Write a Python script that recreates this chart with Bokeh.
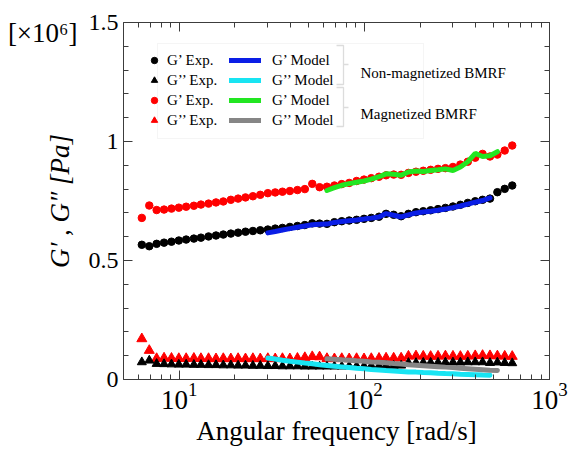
import math
from bokeh.plotting import figure
from bokeh.models import (LogAxis, LinearAxis, LogTicker, FixedTicker, CustomJSTickFormatter,
                          Legend, LegendItem, Label, BoxAnnotation, PolyAnnotation)
from bokeh.embed import file_html
from bokeh.resources import INLINE

# ---------------- data (G values in 10^6 Pa) ----------------
freq = [6.28, 6.89, 7.55, 8.28, 9.08, 9.95, 10.9, 12.0, 13.1, 14.4,
        15.8, 17.3, 19.0, 20.8, 22.8, 25.0, 27.4, 30.1, 33.0, 36.1,
        39.6, 43.5, 47.7, 52.3, 57.3, 62.8, 68.9, 75.5, 82.8, 90.8,
        99.6, 109, 120, 131, 144, 158, 173, 190, 208, 228,
        250, 274, 301, 330, 362, 397, 435, 477, 523, 573, 629]

# Non-magnetized BMRF, experiment
g1_exp_nonmag = [0.566, 0.560, 0.570, 0.575, 0.579, 0.584, 0.588, 0.592, 0.596, 0.601,
                 0.605, 0.609, 0.613, 0.617, 0.621, 0.624, 0.627, 0.630, 0.634, 0.637,
                 0.641, 0.645, 0.649, 0.656, 0.655, 0.654, 0.661, 0.665, 0.668, 0.671,
                 0.675, 0.679, 0.684, 0.696, 0.692, 0.686, 0.696, 0.703, 0.707, 0.711,
                 0.716, 0.721, 0.727, 0.734, 0.742, 0.749, 0.755, 0.760, 0.787, 0.801, 0.815]
g2_exp_nonmag = [0.073, 0.080, 0.066, 0.065, 0.064, 0.063, 0.063, 0.062, 0.062, 0.061,
                 0.061, 0.060, 0.060, 0.059, 0.059, 0.058, 0.058, 0.057, 0.057, 0.056,
                 0.056, 0.056, 0.055, 0.055, 0.055, 0.055, 0.055, 0.055, 0.056, 0.056,
                 0.056, 0.057, 0.057, 0.058, 0.058, 0.059, 0.070, 0.070, 0.071, 0.071,
                 0.071, 0.072, 0.072, 0.072, 0.073, 0.073, 0.073, 0.070, 0.072, 0.070, 0.069]

# Magnetized BMRF, experiment
g1_exp_mag = [0.679, 0.731, 0.712, 0.714, 0.718, 0.722, 0.726, 0.730, 0.735, 0.739,
              0.744, 0.748, 0.755, 0.760, 0.765, 0.770, 0.776, 0.783, 0.786, 0.789,
              0.792, 0.796, 0.800, 0.822, 0.808, 0.810, 0.815, 0.821, 0.826, 0.834,
              0.840, 0.846, 0.852, 0.858, 0.861, 0.860, 0.868, 0.873, 0.877, 0.881,
              0.885, 0.888, 0.893, 0.903, 0.915, 0.932, 0.948, 0.937, 0.945, 0.962, 0.983]
g2_exp_mag = [0.171, 0.122, 0.088, 0.090, 0.089, 0.088, 0.088, 0.089, 0.088, 0.088,
              0.087, 0.088, 0.087, 0.088, 0.087, 0.088, 0.087, 0.088, 0.087, 0.088,
              0.087, 0.089, 0.092, 0.096, 0.095, 0.088, 0.087, 0.088, 0.087, 0.088,
              0.087, 0.088, 0.089, 0.090, 0.090, 0.090, 0.098, 0.099, 0.098, 0.097,
              0.098, 0.099, 0.098, 0.097, 0.098, 0.100, 0.101, 0.100, 0.099, 0.098, 0.097]

# Model curves
freq_model_nonmag = freq[17:48]
g1_model_nonmag = [0.616, 0.622, 0.628, 0.634, 0.640, 0.645, 0.650, 0.652, 0.653, 0.660,
                   0.664, 0.667, 0.670, 0.674, 0.678, 0.683, 0.697, 0.690, 0.683, 0.692,
                   0.700, 0.704, 0.707, 0.711, 0.716, 0.722, 0.729, 0.737, 0.745, 0.752, 0.763]
g2_model_nonmag = [0.090, 0.086, 0.081, 0.077, 0.073, 0.069, 0.066, 0.062, 0.059, 0.056,
                   0.053, 0.050, 0.047, 0.045, 0.042, 0.040, 0.038, 0.036, 0.034, 0.032,
                   0.031, 0.029, 0.028, 0.026, 0.025, 0.024, 0.022, 0.021, 0.020, 0.019, 0.018]
freq_model_mag = freq[25:49]
g1_model_mag = [0.794, 0.806, 0.816, 0.823, 0.829, 0.834, 0.842, 0.852, 0.864, 0.862,
                0.858, 0.872, 0.876, 0.874, 0.878, 0.881, 0.885, 0.878, 0.893, 0.915,
                0.950, 0.937, 0.940, 0.957]
g2_model_mag = [0.087, 0.085, 0.083, 0.081, 0.079, 0.077, 0.074, 0.072, 0.070, 0.067,
                0.065, 0.062, 0.060, 0.058, 0.056, 0.054, 0.052, 0.050, 0.047, 0.045,
                0.043, 0.041, 0.039, 0.038]

y_ticks = [0, 0.5, 1, 1.5]
y_tick_labels = ["0", "0.5", "1", "1.5"]
y_minor = [0.1, 0.2, 0.3, 0.4, 0.6, 0.7, 0.8, 0.9, 1.1, 1.2, 1.3, 1.4]
y_multiplier = "[×10⁶]"
y_label = "G′ , G″ [Pa]"
x_label = "Angular frequency [rad/s]"

FONT = "Liberation Serif"
AX = "#3c3c3c"
FL, FT, FR, FB = 123, 22, 549, 379   # frame edges in page pixels

# ---------------- figure ----------------
W, H = 575, 450
p = figure(width=W, height=H, x_axis_type="log", x_range=(5, 1000), y_range=(0, 1.5),
           output_backend="svg", toolbar_location=None,
           min_border_left=FL, min_border_right=W - FR, min_border_top=FT, min_border_bottom=H - FB)
p.grid.visible = False
p.outline_line_color = None
p.background_fill_color = "white"
p.border_fill_color = "white"


def style_axis(ax):
    ax.axis_line_color = AX
    ax.major_tick_line_color = AX
    ax.minor_tick_line_color = AX
    ax.major_tick_in = 9
    ax.major_tick_out = 0
    ax.minor_tick_in = 5
    ax.minor_tick_out = 0


xa = p.xaxis[0]
xa.ticker = LogTicker(num_minor_ticks=10)
style_axis(xa)
xa.axis_label = x_label
xa.axis_label_text_font = FONT
xa.axis_label_text_font_size = "27px"
xa.axis_label_text_font_style = "normal"
xa.axis_label_text_color = "black"
xa.axis_label_standoff = 4
xa.major_label_text_font = FONT
xa.major_label_text_font_size = "27px"
xa.major_label_text_color = "black"
xa.major_label_standoff = 3

ya = p.yaxis[0]
ya.ticker = FixedTicker(ticks=y_ticks, minor_ticks=y_minor)
ya.major_label_overrides = dict(zip(y_ticks, y_tick_labels))
style_axis(ya)
ya.major_label_text_font = FONT
ya.major_label_text_font_size = "24px"
ya.major_label_text_color = "black"
ya.major_label_standoff = 5

# outer left "axis": carries the 10^6 multiplier and the y-axis title
outer = LinearAxis(ticker=FixedTicker(ticks=[1.455], minor_ticks=[]),
                   formatter=CustomJSTickFormatter(args=dict(t=y_multiplier), code="return t"))
outer.axis_line_color = None
outer.major_tick_line_color = None
outer.minor_tick_line_color = None
outer.major_tick_in = 0
outer.major_tick_out = 0
outer.major_label_standoff = 8
outer.major_label_text_font = FONT
outer.major_label_text_font_size = "27px"
outer.major_label_text_color = "black"
outer.axis_label = y_label
outer.axis_label_text_font = FONT
outer.axis_label_text_font_size = "27px"
outer.axis_label_text_font_style = "italic"
outer.axis_label_text_color = "black"
outer.axis_label_standoff = -70
p.add_layout(outer, "left")

blank = CustomJSTickFormatter(code="return ''")
top = LogAxis(ticker=LogTicker(num_minor_ticks=10), formatter=blank)
style_axis(top)
top.major_label_standoff = 0
p.add_layout(top, "above")
right = LinearAxis(ticker=FixedTicker(ticks=y_ticks, minor_ticks=y_minor), formatter=blank)
style_axis(right)
right.major_label_standoff = 0
p.add_layout(right, "right")

# ---------------- data renderers ----------------
r_m2 = p.scatter(freq, g2_exp_mag, marker="triangle", size=10, color="#ff0000")
r_m1 = p.scatter(freq, g1_exp_mag, marker="circle", size=7.5, color="#ff0000")
r_n2 = p.scatter(freq, g2_exp_nonmag, marker="triangle", size=9, color="black")
r_n1 = p.scatter(freq, g1_exp_nonmag, marker="circle", size=7.5, color="black")

l_n1 = p.line(freq_model_nonmag, g1_model_nonmag, line_width=5, color="#0a1ee6", line_cap="round")
l_n2 = p.line(freq_model_nonmag, g2_model_nonmag, line_width=5, color="#18e4f2", line_cap="round")
l_m1 = p.line(freq_model_mag, g1_model_mag, line_width=5, color="#22e622", line_cap="round")
l_m2 = p.line(freq_model_mag, g2_model_mag, line_width=5, color="#868686", line_cap="round")

# ---------------- legend ----------------
# screen coords relative to frame bottom-left: sx = X - FL, sy = FB - Y
box = BoxAnnotation(left=157 - FL, right=423 - FL, top=FB - 43, bottom=FB - 138,
                    left_units="screen", right_units="screen", top_units="screen", bottom_units="screen",
                    fill_color="white", fill_alpha=1.0, line_color="#dddddd", line_width=1)
p.add_layout(box)

common = dict(spacing=0, padding=0, margin=0, label_height=20, glyph_height=20,
              label_text_font=FONT, label_text_font_size="15px", label_text_color="black",
              background_fill_alpha=0, border_line_color=None)
leg1 = Legend(items=[LegendItem(label="G’ Exp.", renderers=[r_n1]),
                     LegendItem(label="G’’ Exp.", renderers=[r_n2]),
                     LegendItem(label="G’ Exp.", renderers=[r_m1]),
                     LegendItem(label="G’’ Exp.", renderers=[r_m2])],
              location=(146 - FL, FB - 130), glyph_width=16, label_standoff=5, **common)
leg2 = Legend(items=[LegendItem(label="G’ Model", renderers=[l_n1]),
                     LegendItem(label="G’’ Model", renderers=[l_n2]),
                     LegendItem(label="G’ Model", renderers=[l_m1]),
                     LegendItem(label="G’’ Model", renderers=[l_m2])],
              location=(229 - FL, FB - 130), glyph_width=32, label_standoff=11, **common)
p.add_layout(leg1, "center")
p.add_layout(leg2, "center")

# braces
for (y0, ym, y1) in [(45, 64, 84), (87, 107, 126)]:
    xs = [336, 343, 343, 348, 343, 343, 336, 343, 343]
    ys = [y0, y0, ym, ym, ym, y1, y1, y1, y0]
    p.add_layout(PolyAnnotation(xs=[x - FL for x in xs], ys=[FB - y for y in ys],
                                xs_units="screen", ys_units="screen",
                                fill_alpha=0, line_color="#8a8a8a", line_width=1.3))


def lab(text, X, Y, size, **kw):
    p.add_layout(Label(x=X - FL, y=FB - Y, x_units="screen", y_units="screen", text=text,
                       text_font=FONT, text_font_size=size, text_color="black", **kw))


lab("Non-magnetized BMRF", 360, 72, "15px", text_baseline="alphabetic")
lab("Magnetized BMRF", 360, 113, "15px", text_baseline="alphabetic")

open("out.html", "w").write(file_html(p, INLINE))
